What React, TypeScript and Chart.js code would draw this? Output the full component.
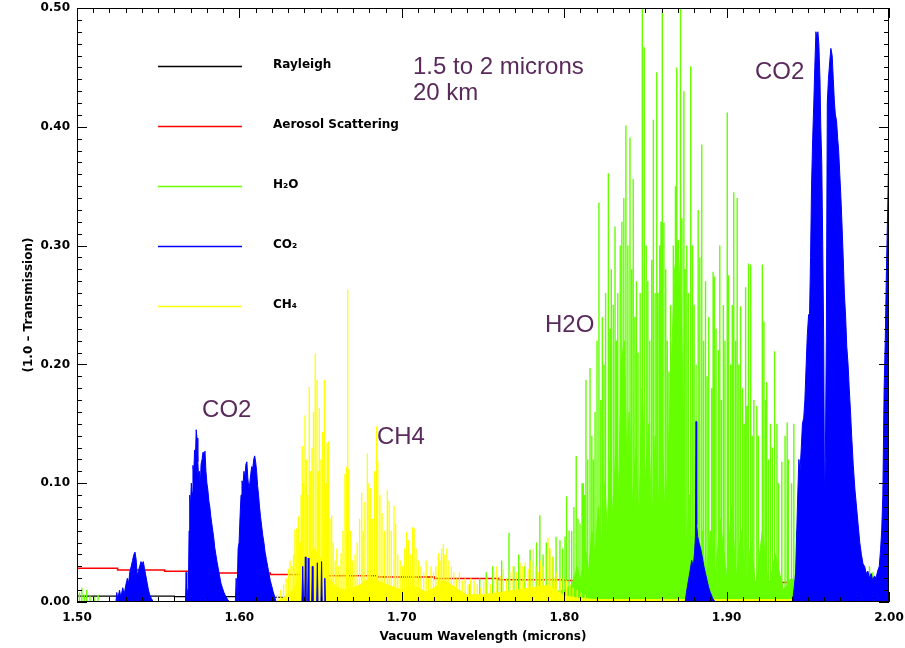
import { useEffect, useRef } from 'react';
import { Chart, registerables } from 'chart.js';

Chart.register(...registerables);

// ---------- axis tick labels ----------
const xTickLabels = ['1.50', '1.60', '1.70', '1.80', '1.90', '2.00'];
const yTickLabels = ['0.00', '0.10', '0.20', '0.30', '0.40', '0.50'];

// ---------- legend ----------
const legendLabels = ['Rayleigh', 'Aerosol Scattering', 'H\u2082O', 'CO\u2082', 'CH\u2084'];

// ---------- annotations ----------
const annText = ['1.5 to 2 microns', '20 km', 'CO2', 'H2O', 'CH4', 'CO2'];
const annWl = [1.7069, 1.7069, 1.9175, 1.7882, 1.6847, 1.5770];
const annVal = [0.4503, 0.4285, 0.4460, 0.2332, 0.1389, 0.1616];

// ---------- Rayleigh ----------
const rayleighWl = [1.50, 1.56, 1.62, 1.68, 1.74, 1.80, 1.87, 1.94, 2.00];
const rayleighVal = [0.0050, 0.0045, 0.0040, 0.0035, 0.0030, 0.0028, 0.0025, 0.0022, 0.0022];

// ---------- Aerosol scattering ----------
const aerosolWl = [1.500, 1.525, 1.554, 1.585, 1.619, 1.651, 1.685, 1.720, 1.760, 1.800, 1.845, 1.890, 1.940, 1.975, 2.000];
const aerosolVal = [0.0285, 0.0270, 0.0258, 0.0245, 0.0232, 0.0220, 0.0210, 0.0198, 0.0188, 0.0180, 0.0172, 0.0165, 0.0155, 0.0148, 0.0148];

// ---------- H2O lines ----------
const h2oLineWl = [
  1.5015, 1.503, 1.5045, 1.506, 1.508, 1.5105, 1.513, 1.6405, 1.66, 1.70,
  1.72, 1.735, 1.742, 1.748, 1.752, 1.756, 1.759, 1.7615, 1.766, 1.769,
  1.772, 1.7755, 1.779, 1.781, 1.783, 1.785, 1.787, 1.789, 1.791, 1.793,
  1.795, 1.7974, 1.799, 1.8005, 1.8015, 1.803, 1.8046, 1.806, 1.8074, 1.8085,
  1.8097, 1.811, 1.8118, 1.8125, 1.8134, 1.8145, 1.8159, 1.817, 1.818, 1.819,
  1.8202, 1.8214, 1.8225, 1.8235, 1.8245, 1.8255, 1.8272, 1.8282, 1.829, 1.8302,
  1.8313, 1.8322, 1.833, 1.8345, 1.8355, 1.8367, 1.838, 1.8392, 1.8405, 1.8415,
  1.8425, 1.8435, 1.8445, 1.8455, 1.8468, 1.8481, 1.8493, 1.8505, 1.8515, 1.8527,
  1.8539, 1.8549, 1.856, 1.857, 1.8578, 1.8588, 1.8596, 1.8604, 1.8614, 1.8625,
  1.8635, 1.8645, 1.8655, 1.8662, 1.8672, 1.8685, 1.8693, 1.8703, 1.8716, 1.8725,
  1.8737, 1.8745, 1.8755, 1.8765, 1.8779, 1.879, 1.88, 1.8812, 1.8825, 1.8835,
  1.8847, 1.8858, 1.887, 1.888, 1.889, 1.8908, 1.8917, 1.8925, 1.8935, 1.8949,
  1.8958, 1.8968, 1.898, 1.899, 1.9004, 1.9012, 1.9025, 1.9035, 1.9044, 1.9055,
  1.9065, 1.9075, 1.9086, 1.9098, 1.9108, 1.9117, 1.9126, 1.9135, 1.9148, 1.9158,
  1.9168, 1.9186, 1.9196, 1.922, 1.923, 1.924, 1.9247, 1.9258, 1.927, 1.9282,
  1.9292, 1.9298, 1.931, 1.932, 1.934, 1.936, 1.9373, 1.938, 1.94, 1.9414,
  1.943, 1.945, 1.948, 1.95, 1.953, 1.955, 1.958, 1.96, 1.962, 1.965,
  1.968, 1.97, 1.973, 1.975, 1.978, 1.98, 1.983, 1.985, 1.988, 1.99,
  1.993, 1.995, 1.997, 1.999,
];
const h2oLinePeak = [
  0.008, 0.012, 0.006, 0.010, 0.005, 0.004, 0.006, 0.006, 0.004, 0.005,
  0.006, 0.010, 0.015, 0.020, 0.025, 0.030, 0.020, 0.035, 0.058, 0.030,
  0.040, 0.030, 0.044, 0.035, 0.050, 0.073, 0.040, 0.050, 0.045, 0.038,
  0.055, 0.052, 0.045, 0.055, 0.089, 0.060, 0.060, 0.080, 0.123, 0.070,
  0.066, 0.100, 0.100, 0.090, 0.187, 0.120, 0.197, 0.140, 0.120, 0.160,
  0.220, 0.336, 0.170, 0.240, 0.200, 0.260, 0.361, 0.230, 0.280, 0.250,
  0.316, 0.220, 0.260, 0.300, 0.320, 0.340, 0.401, 0.300, 0.391, 0.280,
  0.356, 0.240, 0.270, 0.210, 0.260, 0.520, 0.467, 0.300, 0.270, 0.220,
  0.288, 0.406, 0.260, 0.446, 0.260, 0.300, 0.320, 0.497, 0.319, 0.280,
  0.220, 0.194, 0.250, 0.142, 0.300, 0.350, 0.450, 0.305, 0.520, 0.323,
  0.430, 0.280, 0.300, 0.260, 0.451, 0.300, 0.250, 0.200, 0.330, 0.290,
  0.385, 0.220, 0.270, 0.190, 0.240, 0.180, 0.278, 0.274, 0.230, 0.212,
  0.300, 0.170, 0.250, 0.220, 0.412, 0.275, 0.200, 0.250, 0.345, 0.220,
  0.340, 0.200, 0.249, 0.180, 0.150, 0.265, 0.165, 0.285, 0.284, 0.140,
  0.170, 0.165, 0.140, 0.284, 0.236, 0.170, 0.185, 0.120, 0.150, 0.130,
  0.211, 0.210, 0.150, 0.100, 0.118, 0.140, 0.151, 0.120, 0.100, 0.150,
  0.060, 0.040, 0.035, 0.030, 0.040, 0.025, 0.035, 0.020, 0.030, 0.040,
  0.038, 0.030, 0.035, 0.040, 0.030, 0.025, 0.035, 0.020, 0.030, 0.025,
  0.020, 0.018, 0.025, 0.015,
];
// dense, unresolved H2O absorption under the resolved lines
const h2oBandWl = [
  1.7550, 1.7800, 1.8000, 1.8050, 1.8080, 1.8100, 1.8130, 1.8150, 1.8170, 1.8190,
  1.8210, 1.8230, 1.8250, 1.8265, 1.8280, 1.8300, 1.8320, 1.8335, 1.8350, 1.8370,
  1.8385, 1.8400, 1.8420, 1.8440, 1.8460, 1.8480, 1.8500, 1.8520, 1.8540, 1.8560,
  1.8580, 1.8600, 1.8620, 1.8640, 1.8660, 1.8680, 1.8700, 1.8720, 1.8735, 1.8750,
  1.8770, 1.8790, 1.8810, 1.8830, 1.8850, 1.8870, 1.8900, 1.8930, 1.8960, 1.9000,
  1.9030, 1.9060, 1.9090, 1.9120, 1.9150, 1.9180, 1.9220, 1.9260, 1.9300, 1.9350,
  1.9400, 1.9500, 2.0000,
];
const h2oBandVal = [
  0, 0.006, 0.010, 0.015, 0.030, 0.018, 0.045, 0.025, 0.060, 0.040,
  0.080, 0.050, 0.100, 0.060, 0.120, 0.070, 0.140, 0.090, 0.200, 0.220,
  0.120, 0.160, 0.080, 0.130, 0.070, 0.180, 0.100, 0.150, 0.060, 0.140,
  0.080, 0.160, 0.070, 0.120, 0.200, 0.280, 0.300, 0.250, 0.150, 0.040,
  0.090, 0.030, 0.070, 0.020, 0.060, 0.015, 0.060, 0.020, 0.070, 0.020,
  0.080, 0.020, 0.060, 0.015, 0.050, 0.012, 0.060, 0.012, 0.040, 0.010,
  0.020, 0.008, 0.005,
];

// ---------- CH4 lines ----------
const ch4LineWl = [
  1.6235, 1.6255, 1.6272, 1.6288, 1.6302, 1.6312, 1.6323, 1.6333, 1.6342, 1.6353,
  1.6363, 1.6372, 1.6380, 1.6387, 1.6395, 1.6404, 1.6412, 1.6420, 1.6430, 1.6438,
  1.6447, 1.6456, 1.6467, 1.6478, 1.6485, 1.6492, 1.6502, 1.6512, 1.6523, 1.6532,
  1.6540, 1.6548, 1.6558, 1.6568, 1.6578, 1.6590, 1.6600, 1.6612, 1.6626, 1.6638,
  1.6650, 1.6660, 1.6667, 1.6673, 1.6685, 1.6698, 1.6712, 1.6725, 1.6740, 1.6753,
  1.6763, 1.6773, 1.6788, 1.6797, 1.6806, 1.6818, 1.6832, 1.6845, 1.6852, 1.6865,
  1.6878, 1.6895, 1.6911, 1.6922, 1.6935, 1.6952, 1.6962, 1.6975, 1.6990, 1.7005,
  1.7018, 1.7030, 1.7042, 1.7055, 1.7067, 1.7076, 1.7088, 1.7102, 1.7118, 1.7135,
  1.7150, 1.7165, 1.7180, 1.7195, 1.7210, 1.7225, 1.7235, 1.7245, 1.7256, 1.7265,
  1.7278, 1.7290, 1.7305, 1.7320, 1.7338, 1.7355, 1.7372, 1.7390, 1.7408, 1.7425,
  1.7445, 1.7465, 1.7485, 1.7505, 1.7525, 1.7545, 1.7565, 1.7585, 1.7605, 1.7625,
  1.7645, 1.7665, 1.7685, 1.7705, 1.7728, 1.7745, 1.7760, 1.7778, 1.7795, 1.7810,
  1.7825, 1.7840, 1.7855, 1.7870, 1.7885, 1.7900, 1.7912, 1.7925, 1.7940, 1.7955,
  1.7975, 1.7995, 1.8015, 1.8035, 1.8055, 1.8080, 1.8105, 1.8130,
];
const ch4LinePeak = [
  0.006, 0.010, 0.015, 0.020, 0.028, 0.035, 0.030, 0.040, 0.061, 0.062,
  0.072, 0.050, 0.090, 0.131, 0.100, 0.157, 0.120, 0.090, 0.181, 0.110,
  0.130, 0.160, 0.209, 0.187, 0.110, 0.163, 0.120, 0.143, 0.187, 0.100,
  0.134, 0.135, 0.070, 0.073, 0.050, 0.035, 0.045, 0.030, 0.041, 0.060,
  0.108, 0.114, 0.263, 0.112, 0.060, 0.035, 0.040, 0.050, 0.070, 0.092,
  0.060, 0.084, 0.125, 0.100, 0.096, 0.070, 0.110, 0.148, 0.118, 0.090,
  0.075, 0.060, 0.094, 0.085, 0.060, 0.081, 0.066, 0.040, 0.035, 0.030,
  0.045, 0.059, 0.052, 0.040, 0.063, 0.062, 0.045, 0.035, 0.030, 0.025,
  0.035, 0.020, 0.030, 0.025, 0.030, 0.041, 0.035, 0.045, 0.049, 0.040,
  0.045, 0.035, 0.030, 0.025, 0.020, 0.025, 0.018, 0.020, 0.015, 0.020,
  0.018, 0.015, 0.012, 0.018, 0.020, 0.015, 0.025, 0.030, 0.022, 0.028,
  0.020, 0.025, 0.030, 0.025, 0.033, 0.030, 0.033, 0.028, 0.035, 0.045,
  0.030, 0.025, 0.035, 0.030, 0.040, 0.054, 0.045, 0.038, 0.020, 0.025,
  0.020, 0.022, 0.018, 0.015, 0.012, 0.010, 0.008, 0.006,
];
const ch4BandWl = [1.6220, 1.6280, 1.6330, 1.6370, 1.6400, 1.6430, 1.6460, 1.6490, 1.6520, 1.6550, 1.6600, 1.6650, 1.6700, 1.6750, 1.6800, 1.6850, 1.6900, 1.7000, 1.7050, 1.7100, 1.7150, 1.7200, 1.7250, 1.7300, 1.7350, 1.7400, 1.7500, 1.7600, 1.7700, 1.7800, 1.7900, 1.7950, 1.8000, 1.8100, 1.8200, 2.0000];
const ch4BandVal = [0, 0.004, 0.010, 0.020, 0.030, 0.040, 0.045, 0.040, 0.030, 0.020, 0.012, 0.010, 0.012, 0.015, 0.020, 0.018, 0.015, 0.010, 0.014, 0.012, 0.008, 0.012, 0.018, 0.015, 0.010, 0.006, 0.006, 0.008, 0.010, 0.012, 0.014, 0.010, 0.005, 0.003, 0.002, 0.002];

// ---------- CO2 bands ----------
const co2aWl = [1.5240, 1.5245, 1.5250, 1.5262, 1.5270, 1.5282, 1.5290, 1.5300, 1.5310, 1.5318, 1.5326, 1.5334, 1.5342, 1.5350, 1.5357, 1.5364, 1.5371, 1.5378, 1.5386, 1.5394, 1.5401, 1.5408, 1.5416, 1.5424, 1.5432, 1.5440, 1.5448, 1.5458, 1.5470];
const co2aVal = [0, 0.008, 0.002, 0.010, 0.004, 0.012, 0.006, 0.014, 0.020, 0.016, 0.026, 0.030, 0.035, 0.040, 0.042, 0.036, 0.022, 0.026, 0.030, 0.034, 0.032, 0.034, 0.028, 0.022, 0.016, 0.010, 0.006, 0.003, 0];
const co2bWl = [1.5668, 1.5672, 1.5676, 1.5680, 1.5686, 1.5690, 1.5694, 1.5699, 1.5704, 1.5709, 1.5714, 1.5719, 1.5724, 1.5729, 1.5734, 1.5739, 1.5744, 1.5749, 1.5754, 1.5759, 1.5764, 1.5770, 1.5776, 1.5782, 1.5788, 1.5794, 1.5800, 1.5806, 1.5812, 1.5818, 1.5824, 1.5830, 1.5836, 1.5842, 1.5848, 1.5855, 1.5862, 1.5870, 1.5878, 1.5886, 1.5895, 1.5905, 1.5915, 1.5928, 1.5940];
const co2bVal = [0, 0.025, 0.004, 0.008, 0.012, 0.060, 0.090, 0.082, 0.100, 0.092, 0.115, 0.108, 0.128, 0.120, 0.145, 0.138, 0.118, 0.104, 0.110, 0.098, 0.116, 0.120, 0.126, 0.122, 0.127, 0.110, 0.100, 0.094, 0.085, 0.080, 0.072, 0.066, 0.060, 0.054, 0.046, 0.040, 0.034, 0.028, 0.022, 0.016, 0.012, 0.008, 0.005, 0.002, 0];
const co2cWl = [1.5975, 1.5980, 1.5986, 1.5992, 1.5998, 1.6004, 1.6010, 1.6016, 1.6022, 1.6028, 1.6034, 1.6040, 1.6046, 1.6052, 1.6058, 1.6064, 1.6070, 1.6076, 1.6082, 1.6088, 1.6094, 1.6100, 1.6106, 1.6112, 1.6118, 1.6124, 1.6130, 1.6137, 1.6144, 1.6151, 1.6158, 1.6166, 1.6174, 1.6182, 1.6190, 1.6198, 1.6207, 1.6216, 1.6226];
const co2cVal = [0, 0.020, 0.008, 0.045, 0.050, 0.072, 0.090, 0.102, 0.098, 0.110, 0.105, 0.116, 0.118, 0.104, 0.096, 0.100, 0.108, 0.114, 0.112, 0.120, 0.123, 0.118, 0.110, 0.098, 0.090, 0.080, 0.072, 0.064, 0.056, 0.050, 0.042, 0.036, 0.030, 0.024, 0.018, 0.014, 0.009, 0.005, 0];
const co2dWl = [1.6385, 1.6390, 1.6395, 1.6402, 1.6406, 1.6410, 1.6420, 1.6424, 1.6428, 1.6445, 1.6449, 1.6453, 1.6476, 1.6480, 1.6484, 1.6502, 1.6506, 1.6510, 1.6522, 1.6526, 1.6530];
const co2dVal = [0, 0.030, 0, 0, 0.038, 0, 0, 0.037, 0, 0, 0.030, 0, 0, 0.033, 0, 0, 0.034, 0, 0, 0.020, 0];
const co2eWl = [1.8745, 1.8755, 1.8765, 1.8775, 1.8785, 1.8795, 1.8803, 1.8808, 1.8812, 1.8816, 1.8822, 1.8830, 1.8840, 1.8850, 1.8860, 1.8870, 1.8880, 1.8890, 1.8900, 1.8915, 1.8930];
const co2eVal = [0, 0.010, 0.018, 0.026, 0.035, 0.030, 0.042, 0.055, 0.152, 0.065, 0.055, 0.050, 0.045, 0.038, 0.030, 0.024, 0.018, 0.012, 0.008, 0.003, 0];
const co2fWl = [
  1.9405, 1.9415, 1.9425, 1.9430, 1.9438, 1.9445, 1.9452, 1.9460, 1.9467, 1.9475,
  1.9482, 1.9490, 1.9497, 1.9505, 1.9510, 1.9517, 1.9523, 1.9530, 1.9537, 1.9543,
  1.9550, 1.9556, 1.9562, 1.9568, 1.9575, 1.9580, 1.9586, 1.9592, 1.9598, 1.9603,
  1.9608, 1.9614, 1.9620, 1.9627, 1.9635, 1.9642, 1.9650, 1.9657, 1.9664, 1.9670,
  1.9677, 1.9684, 1.9690, 1.9697, 1.9704, 1.9710, 1.9718, 1.9725, 1.9733, 1.9740,
  1.9748, 1.9755, 1.9763, 1.9770, 1.9780, 1.9790, 1.9800, 1.9810, 1.9820, 1.9830,
  1.9840, 1.9850, 1.9860, 1.9870, 1.9880, 1.9890, 1.9900, 1.9910, 1.9920, 1.9930,
  1.9940, 1.9948, 1.9955, 1.9962, 1.9970, 1.9977, 1.9984, 1.9992, 2.0000,
];
const co2fVal = [
  0, 0.010, 0.025, 0.050, 0.090, 0.120, 0.110, 0.130, 0.150, 0.155,
  0.170, 0.200, 0.225, 0.242, 0.235, 0.290, 0.350, 0.390, 0.420, 0.450,
  0.480, 0.475, 0.480, 0.470, 0.440, 0.400, 0.370, 0.300, 0.220, 0.085,
  0.120, 0.220, 0.420, 0.440, 0.455, 0.466, 0.460, 0.440, 0.420, 0.410,
  0.405, 0.390, 0.380, 0.360, 0.340, 0.320, 0.290, 0.260, 0.240, 0.215,
  0.200, 0.180, 0.160, 0.140, 0.115, 0.095, 0.080, 0.065, 0.050, 0.040,
  0.032, 0.030, 0.024, 0.026, 0.020, 0.024, 0.018, 0.022, 0.020, 0.026,
  0.030, 0.044, 0.060, 0.090, 0.180, 0.220, 0.278, 0.330, 0.395,
];

const COL_RAY = '#000000';
const COL_AER = '#ff0000';
const COL_H2O = '#66ff00';
const COL_CO2 = '#0000ff';
const COL_CH4 = '#ffff00';
const COL_ANN = '#5a2a5c';
const legendColors = [COL_RAY, COL_AER, COL_H2O, COL_CO2, COL_CH4];

type Pt = { x: number; y: number | null };

function series(wl: number[], val: number[]): Pt[] {
  return wl.map((w, i) => ({ x: w, y: val[i] }));
}
function spikes(wl: number[], peak: number[]): Pt[] {
  const out: Pt[] = [];
  wl.forEach((w, i) => {
    out.push({ x: w, y: 0 }, { x: w, y: peak[i] }, { x: w, y: 0 });
  });
  return out;
}
function bands(list: [number[], number[]][]): Pt[] {
  const out: Pt[] = [];
  list.forEach(([w, v], k) => {
    if (k > 0) out.push({ x: w[0], y: null });
    out.push(...series(w, v));
  });
  return out;
}

const overlayPlugin = {
  id: 'overlay',
  afterDatasetsDraw(chart: any) {
    const { ctx, chartArea: a } = chart;
    const xs = chart.scales.x;
    const ys = chart.scales.y;
    ctx.save();
    ctx.strokeStyle = '#000';
    ctx.lineWidth = 1;
    ctx.beginPath();
    ctx.rect(a.left + 0.5, a.top + 0.5, a.right - a.left - 1, a.bottom - a.top - 1);
    ctx.stroke();
    ctx.beginPath();
    for (let k = 0; k <= 50; k++) {
      const px = Math.round(xs.getPixelForValue(1.5 + k / 100)) + 0.5;
      const len = k % 10 === 0 ? 10 : 5;
      ctx.moveTo(px, a.bottom);
      ctx.lineTo(px, a.bottom - len);
      ctx.moveTo(px, a.top);
      ctx.lineTo(px, a.top + len);
    }
    for (let k = 0; k <= 50; k++) {
      const py = Math.round(ys.getPixelForValue(k / 100)) + 0.5;
      const len = k % 10 === 0 ? 10 : 5;
      ctx.moveTo(a.left, py);
      ctx.lineTo(a.left + len, py);
      ctx.moveTo(a.right, py);
      ctx.lineTo(a.right - len, py);
    }
    ctx.stroke();

    // legend
    legendLabels.forEach((lab, i) => {
      const yy = a.top + 58.5 + i * 60;
      ctx.strokeStyle = legendColors[i];
      ctx.lineWidth = 1.5;
      ctx.beginPath();
      ctx.moveTo(a.left + 81, yy);
      ctx.lineTo(a.left + 165, yy);
      ctx.stroke();
      ctx.fillStyle = '#000';
      ctx.font = 'bold 12px "DejaVu Sans"';
      ctx.textAlign = 'left';
      ctx.textBaseline = 'middle';
      ctx.fillText(lab, a.left + 196, yy - 2);
    });

    // annotations
    ctx.fillStyle = COL_ANN;
    ctx.font = '24px "Liberation Sans"';
    ctx.textAlign = 'left';
    ctx.textBaseline = 'middle';
    annText.forEach((t, i) => {
      ctx.fillText(t, xs.getPixelForValue(annWl[i]), ys.getPixelForValue(annVal[i]));
    });
    ctx.restore();
  },
};

export default function App() {
  const ref = useRef<HTMLCanvasElement | null>(null);

  useEffect(() => {
    if (!ref.current) return;
    const tickFont = { family: 'DejaVu Sans', size: 12, weight: 'bold' as const };
    const titleFont = { family: 'DejaVu Sans', size: 12, weight: 'bold' as const };
    const chart = new Chart(ref.current, {
      type: 'line',
      data: {
        datasets: [
          {
            label: 'CO2',
            data: bands([
              [co2aWl, co2aVal],
              [co2bWl, co2bVal],
              [co2cWl, co2cVal],
              [co2dWl, co2dVal],
              [co2eWl, co2eVal],
              [co2fWl, co2fVal],
            ]),
            borderColor: COL_CO2,
            backgroundColor: COL_CO2,
            borderWidth: 1,
            fill: 'origin',
            spanGaps: false,
            order: 0,
          },
          {
            label: 'CH4 lines',
            data: spikes(ch4LineWl, ch4LinePeak),
            borderColor: COL_CH4,
            borderWidth: 1.3,
            fill: false,
            order: 1,
          },
          {
            label: 'CH4',
            data: series(ch4BandWl, ch4BandVal),
            borderColor: COL_CH4,
            backgroundColor: COL_CH4,
            borderWidth: 1,
            fill: 'origin',
            order: 2,
          },
          {
            label: 'H2O lines',
            data: spikes(h2oLineWl, h2oLinePeak),
            borderColor: COL_H2O,
            borderWidth: 1.4,
            fill: false,
            order: 3,
          },
          {
            label: 'H2O',
            data: series(h2oBandWl, h2oBandVal),
            borderColor: COL_H2O,
            backgroundColor: COL_H2O,
            borderWidth: 1,
            fill: 'origin',
            order: 4,
          },
          {
            label: 'Aerosol Scattering',
            data: series(aerosolWl, aerosolVal),
            borderColor: COL_AER,
            borderWidth: 1.5,
            stepped: true,
            fill: false,
            order: 5,
          },
          {
            label: 'Rayleigh',
            data: series(rayleighWl, rayleighVal),
            borderColor: COL_RAY,
            borderWidth: 1.2,
            stepped: true,
            fill: false,
            order: 6,
          },
        ],
      },
      options: {
        animation: false,
        responsive: true,
        maintainAspectRatio: false,
        devicePixelRatio: 1,
        events: [],
        layout: { padding: { top: 8, right: 16, bottom: 0, left: 0 } },
        elements: { point: { radius: 0 }, line: { tension: 0 } },
        plugins: {
          legend: { display: false },
          tooltip: { enabled: false },
          title: { display: false },
        },
        scales: {
          x: {
            type: 'linear',
            min: 1.5,
            max: 2.0,
            offset: false,
            grid: { display: false, drawTicks: false },
            border: { display: false },
            ticks: {
              stepSize: 0.1,
              maxRotation: 0,
              autoSkip: false,
              padding: 9,
              color: '#000',
              font: tickFont,
              callback: (v: any) => xTickLabels[Math.round((Number(v) - 1.5) * 10)] ?? '',
            },
            title: {
              display: true,
              text: 'Vacuum Wavelength (microns)',
              color: '#000',
              font: titleFont,
              padding: { top: 0, bottom: 4 },
            },
            afterFit: (s: any) => {
              s.height = 46;
              s.paddingLeft = 0;
              s.paddingRight = 0;
            },
          },
          y: {
            type: 'linear',
            min: 0,
            max: 0.5,
            grid: { display: false, drawTicks: false },
            border: { display: false },
            ticks: {
              stepSize: 0.1,
              padding: 7,
              color: '#000',
              font: tickFont,
              callback: (v: any) => yTickLabels[Math.round(Number(v) * 10)] ?? '',
            },
            title: {
              display: true,
              text: '(1.0 \u2013 Transmission)',
              color: '#000',
              font: titleFont,
              padding: { top: 22, bottom: 0 },
            },
            afterFit: (s: any) => {
              s.width = 77;
              s.paddingTop = 0;
              s.paddingBottom = 0;
            },
          },
        },
      },
      plugins: [overlayPlugin],
    } as any);
    return () => chart.destroy();
  }, []);

  return (
    <div style={{ position: 'fixed', left: 0, top: 0, width: 905, height: 648, background: '#fff' }}>
      <canvas ref={ref} />
    </div>
  );
}
